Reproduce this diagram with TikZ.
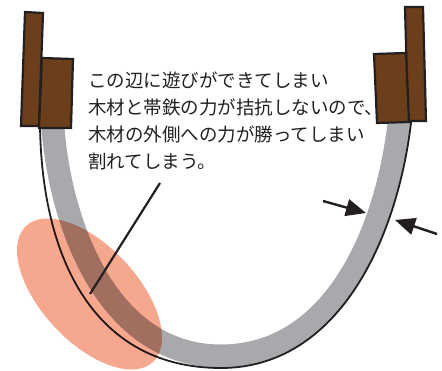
\documentclass[tikz,border=0pt]{standalone}
\usepackage{fontspec}
\newfontfamily\jpfont{Noto Sans CJK JP}
\usetikzlibrary{arrows.meta}
\definecolor{wood}{HTML}{6B3F1C}
\definecolor{band}{HTML}{A7A9AC}
\definecolor{ink}{HTML}{231F20}
\definecolor{zone}{HTML}{F6A88F}
\begin{document}
\begin{tikzpicture}[x=1pt,y=-1pt,
  woodblock/.style={fill=wood,draw=ink,line width=2.2pt,line join=miter},
  strap/.style={draw=band,line width=23pt},
  rim/.style={draw=ink,line width=1.8pt},
  caption/.style={font=\jpfont\fontsize{18.5}{27}\selectfont,text=ink,anchor=base west,inner sep=0pt},
  gauge/.style={draw=ink,line width=2.4pt,-{Triangle[length=20pt,width=17pt]}},
  leader/.style={draw=ink,line width=2.2pt},
]
\useasboundingbox (0,0) rectangle (442,371);

% iron strap bent into a U
\draw[strap] (52,110) -- (53,128)
  .. controls (60,220) and (105,356) .. (221,356)
  .. controls (330,356) and (385,240) .. (399,124) -- (400,110);

% outline of the timber: loose on the left, tight on the right
\draw[rim] (40,112) -- (40,126)
  .. controls (42,260) and (95,368) .. (221,368)
  .. controls (338,368) and (397,240) .. (411,123) -- (412,110);

% highlighted zone
\fill[zone, blend mode=multiply, rotate around={-47:(89.5,294)}]
  (89.5,294) ellipse [x radius=93, y radius=48];

% wooden blocks at the ends
\draw[woodblock] (25,12) -- (43,13) -- (39,126) -- (21,126) -- cycle;
\draw[woodblock] (42,58) -- (73,59) -- (71,128) -- (39,128) -- cycle;
\draw[woodblock] (405,7) -- (423,7) -- (426,121) -- (408,121) -- cycle;
\draw[woodblock] (374,54) -- (406,53) -- (409,122) -- (377,123) -- cycle;

% explanation
\node[caption] (l1) at (88,88) {この辺に遊びができてしまい};
\node[caption] (l2) at (88,115) {木材と帯鉄の力が拮抗しないので、};
\node[caption] (l3) at (88,142) {木材の外側への力が勝ってしまい};
\node[caption] (l4) at (88,169) {割れてしまう。};

% leader from the text to the gap
\coordinate (leadtop) at (160,183);
\coordinate (leadend) at (90,294);
\draw[leader] (leadtop) -- (leadend);

% thickness arrows
\coordinate (intail) at (323,201);
\coordinate (intip) at (366,213);
\coordinate (outtail) at (437,234);
\coordinate (outtip) at (395,220);
\draw[gauge] (intail) -- (intip);
\draw[gauge] (outtail) -- (outtip);
\end{tikzpicture}
\end{document}
